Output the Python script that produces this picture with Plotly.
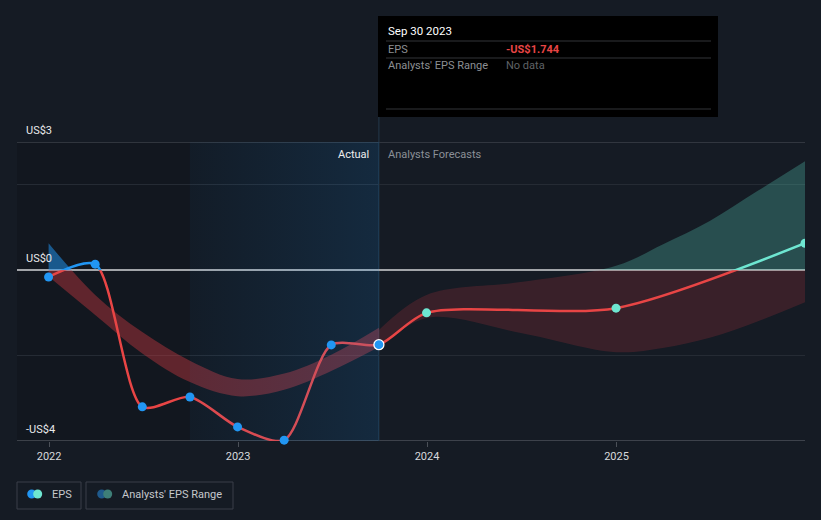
import plotly.graph_objects as go

# ---------------- data ----------------
actual_dates = ['2021-12-31', '2022-03-31', '2022-06-30', '2022-09-30',
                '2022-12-31', '2023-03-31', '2023-06-30', '2023-09-30']
actual_eps = [-0.16, 0.14, -3.20, -2.97, -3.67, -3.98, -1.75, -1.744]

forecast_dates = ['2023-09-30', '2023-12-31', '2024-12-31', '2025-12-31']
forecast_eps = [-1.744, -1.00, -0.89, 0.63]

past_band_dates = ['2021-12-31', '2022-03-31', '2022-06-30', '2022-09-30',
                   '2022-12-31', '2023-03-31', '2023-06-30', '2023-09-30']
past_band_high = [0.63, -0.58, -1.45, -2.12, -2.55, -2.42, -1.98, -1.35]
past_band_low = [-0.15, -1.05, -1.95, -2.62, -2.95, -2.80, -2.36, -1.80]

fc_band_dates = ['2023-09-30', '2023-12-31', '2024-06-30', '2024-12-31',
                 '2025-03-31', '2025-06-30', '2025-09-30', '2025-12-31']
fc_band_high = [-1.40, -0.58, -0.28, 0.10, 0.60, 1.15, 1.85, 2.55]
fc_band_low = [-1.85, -1.12, -1.47, -1.92, -1.82, -1.58, -1.20, -0.75]

x_tick_vals = ['2022-01-01', '2023-01-01', '2024-01-01', '2025-01-01']
x_tick_text = ['2022', '2023', '2024', '2025']
y_label_vals = [3, 0, -4]
y_label_text = ['US$3', 'US$0', '-US$4']
y_grid_vals = [-2, 2]
x_range = ['2021-10-31', '2025-12-31']
y_range = [-4, 3]

tooltip_date = 'Sep 30 2023'
tooltip_eps = '-US$1.744'

# ---------------- style ----------------
BG = '#151b24'
RED = '#e84545'
BLUE = '#2196f3'
TEAL = '#6ee6d1'
FONT = 'Roboto'
SMOOTH = 0.75

W, H = 821, 520
L, R, T, B = 17, 16, 142, 79
PW, PH = W - L - R, H - T - B
zero_frac = (0 - y_range[0]) / (y_range[1] - y_range[0])


def px(xp):
    return (xp - L) / PW


def py(yp):
    return (T + PH - yp) / PH


fig = go.Figure()

# --- bands: lower part (below zero, red) on y3, upper part on y2 ---
for axis, col_past, col_fc in (('y3', 'rgba(205,58,64,0.42)', 'rgba(205,55,65,0.20)'),
                               ('y2', 'rgba(33,150,243,0.52)', 'rgba(88,212,190,0.28)')):
    fig.add_trace(go.Scatter(x=past_band_dates, y=past_band_low, mode='lines',
                             line=dict(width=0, shape='spline'), yaxis=axis,
                             hoverinfo='skip', showlegend=False))
    fig.add_trace(go.Scatter(x=past_band_dates, y=past_band_high, mode='lines',
                             line=dict(width=0, shape='spline'), fill='tonexty',
                             fillcolor=col_past, yaxis=axis,
                             hoverinfo='skip', showlegend=False))
    fig.add_trace(go.Scatter(x=fc_band_dates, y=fc_band_low, mode='lines',
                             line=dict(width=0, shape='spline'), yaxis=axis,
                             hoverinfo='skip', showlegend=False))
    fig.add_trace(go.Scatter(x=fc_band_dates, y=fc_band_high, mode='lines',
                             line=dict(width=0, shape='spline'), fill='tonexty',
                             fillcolor=col_fc, yaxis=axis,
                             hoverinfo='skip', showlegend=False))

# --- EPS line: red below zero ---
all_dates = actual_dates + forecast_dates[1:]
all_eps = actual_eps + forecast_eps[1:]
fig.add_trace(go.Scatter(x=all_dates, y=all_eps, mode='lines',
                         line=dict(color=RED, width=2.5, shape='spline', smoothing=SMOOTH),
                         yaxis='y3', hoverinfo='skip', showlegend=False))
# above zero: blue for actual, teal for forecast
fig.add_trace(go.Scatter(x=actual_dates, y=actual_eps, mode='lines',
                         line=dict(color=BLUE, width=2.5, shape='spline', smoothing=SMOOTH),
                         yaxis='y2', hoverinfo='skip', showlegend=False))
fig.add_trace(go.Scatter(x=forecast_dates, y=forecast_eps, mode='lines',
                         line=dict(color=TEAL, width=2.5, shape='spline', smoothing=SMOOTH),
                         yaxis='y2', hoverinfo='skip', showlegend=False))

# --- highlight overlay for the last year of actuals ---
hs, he = actual_dates[3], actual_dates[-1]
fig.add_trace(go.Scatter(x=[hs, he, he, hs, hs],
                         y=[y_range[1], y_range[1], y_range[0], y_range[0], y_range[1]],
                         mode='lines', line=dict(width=0), fill='toself',
                         fillgradient=dict(type='horizontal',
                                           colorscale=[[0, 'rgba(33,150,243,0.04)'],
                                                       [1, 'rgba(33,150,243,0.15)']]),
                         yaxis='y4', hoverinfo='skip', showlegend=False))

# --- markers ---
fig.add_trace(go.Scatter(x=actual_dates[:-1], y=actual_eps[:-1], mode='markers',
                         marker=dict(color=BLUE, size=9), cliponaxis=False,
                         yaxis='y5', hoverinfo='skip', showlegend=False))
fig.add_trace(go.Scatter(x=actual_dates[-1:], y=actual_eps[-1:], mode='markers',
                         marker=dict(color=BLUE, size=10, line=dict(color='white', width=1.3)),
                         cliponaxis=False, yaxis='y5', hoverinfo='skip', showlegend=False))
fig.add_trace(go.Scatter(x=forecast_dates[1:-1], y=forecast_eps[1:-1], mode='markers',
                         marker=dict(color=TEAL, size=9), cliponaxis=False,
                         yaxis='y5', hoverinfo='skip', showlegend=False))
fig.add_trace(go.Scatter(x=forecast_dates[-1:], y=forecast_eps[-1:], mode='markers',
                         marker=dict(color=TEAL, size=9), cliponaxis=True,
                         yaxis='y5', hoverinfo='skip', showlegend=False))

# ---------------- shapes ----------------
shapes = []
# darker past region
shapes.append(dict(type='rect', xref='x', yref='paper', x0=x_range[0], x1=he, y0=0, y1=1,
                   fillcolor='rgba(0,0,0,0.13)', line=dict(width=0), layer='below'))
# top and bottom reference lines
shapes.append(dict(type='line', xref='paper', yref='y', x0=0, x1=1, y0=y_range[1], y1=y_range[1],
                   line=dict(color='#3b4049', width=1.5), layer='below'))
shapes.append(dict(type='line', xref='paper', yref='y', x0=0, x1=1, y0=y_range[0], y1=y_range[0],
                   line=dict(color='#4b5058', width=1.5), layer='below'))
# crosshair line
shapes.append(dict(type='line', xref='x', yref='paper', x0=he, x1=he, y0=0, y1=py(117),
                   line=dict(color='#24384b', width=1), layer='below'))
# tooltip box
shapes.append(dict(type='rect', xref='paper', yref='paper', x0=px(378), x1=px(718),
                   y0=py(117), y1=py(16), fillcolor='#000000', line=dict(width=0), layer='above'))
for yy in (41, 58, 109):
    shapes.append(dict(type='line', xref='paper', yref='paper', x0=px(386), x1=px(711),
                       y0=py(yy), y1=py(yy), line=dict(color='#333538', width=1), layer='above'))
# legend boxes
for x0, x1 in ((17, 81), (86, 233)):
    shapes.append(dict(type='rect', xref='paper', yref='paper', x0=px(x0), x1=px(x1),
                       y0=py(509), y1=py(482), line=dict(color='#3a3f48', width=1),
                       fillcolor='rgba(0,0,0,0)', layer='above'))
for cx, col in ((31.7, BLUE), (37.7, TEAL), (101.7, '#1f5a8c'), (107.7, '#3e7f78')):
    shapes.append(dict(type='circle', xref='paper', yref='paper', xsizemode='pixel', ysizemode='pixel',
                       xanchor=px(cx), yanchor=py(494), x0=-4.5, x1=4.5, y0=-4.5, y1=4.5,
                       fillcolor=col, line=dict(width=0), layer='above'))

# ---------------- annotations ----------------
ann = []
for v, t in zip(y_label_vals, y_label_text):
    ann.append(dict(x=px(24), xref='paper', xanchor='left', y=v, yref='y', yanchor='bottom',
                    yshift=3, text=t, showarrow=False, font=dict(family=FONT, size=11, color='#e8e9eb')))
ann.append(dict(x=he, xref='x', xanchor='right', xshift=-8, y=y_range[1], yref='y', yanchor='top',
                yshift=-4, text='Actual', showarrow=False, font=dict(family=FONT, size=11, color='#eeeeee')))
ann.append(dict(x=he, xref='x', xanchor='left', xshift=7, y=y_range[1], yref='y', yanchor='top',
                yshift=-4, text='Analysts Forecasts', showarrow=False,
                font=dict(family=FONT, size=11, color='#8b9097')))
# tooltip texts
ann.append(dict(x=px(386), y=py(31), xref='paper', yref='paper', xanchor='left', yanchor='middle',
                text=tooltip_date, showarrow=False, font=dict(family=FONT, size=11.5, color='#ffffff')))
ann.append(dict(x=px(386), y=py(49), xref='paper', yref='paper', xanchor='left', yanchor='middle',
                text='EPS', showarrow=False, font=dict(family=FONT, size=11, color='#8c8f93')))
ann.append(dict(x=px(504), y=py(49), xref='paper', yref='paper', xanchor='left', yanchor='middle',
                text='<b>' + tooltip_eps + '</b>', showarrow=False, font=dict(family=FONT, size=11, color=RED)))
ann.append(dict(x=px(386), y=py(66), xref='paper', yref='paper', xanchor='left', yanchor='middle',
                text="Analysts' EPS Range", showarrow=False, font=dict(family=FONT, size=11, color='#8c8f93')))
ann.append(dict(x=px(504), y=py(66), xref='paper', yref='paper', xanchor='left', yanchor='middle',
                text='No data', showarrow=False, font=dict(family=FONT, size=11, color='#5f6266')))
# legend texts
ann.append(dict(x=px(49.5), y=py(494), xref='paper', yref='paper', xanchor='left', yanchor='middle',
                text='EPS', showarrow=False, font=dict(family=FONT, size=11, color='#c5c8cc')))
ann.append(dict(x=px(120), y=py(494), xref='paper', yref='paper', xanchor='left', yanchor='middle',
                text="Analysts' EPS Range", showarrow=False, font=dict(family=FONT, size=11, color='#c5c8cc')))

hidden = dict(visible=False, fixedrange=True, anchor='x')
fig.update_layout(
    width=W, height=H,
    margin=dict(l=L, r=R, t=T, b=B, pad=0),
    paper_bgcolor=BG, plot_bgcolor='rgba(0,0,0,0)',
    showlegend=False, hovermode=False,
    font=dict(family=FONT, size=11, color='#d7d9dc'),
    xaxis=dict(type='date', range=x_range, tickvals=x_tick_vals, ticktext=x_tick_text,
               showgrid=False, zeroline=False, showline=False, ticks='outside', ticklen=5,
               tickcolor='#4b5058', tickfont=dict(family=FONT, size=11, color='#d7d9dc'),
               fixedrange=True),
    yaxis=dict(range=y_range, domain=[0, 1], tickvals=y_grid_vals, showticklabels=False,
               showgrid=True, gridcolor='#252b34', gridwidth=1, zeroline=True,
               zerolinecolor='#a2a5a9', zerolinewidth=2, ticks='', fixedrange=True),
    yaxis2=dict(range=[0, y_range[1]], domain=[zero_frac, 1], **hidden),
    yaxis3=dict(range=[y_range[0], 0], domain=[0, zero_frac], **hidden),
    yaxis4=dict(range=y_range, domain=[0, 1], **hidden),
    yaxis5=dict(range=y_range, domain=[0, 1], **hidden),
    shapes=shapes, annotations=ann,
)

fig.write_html('out.html')
